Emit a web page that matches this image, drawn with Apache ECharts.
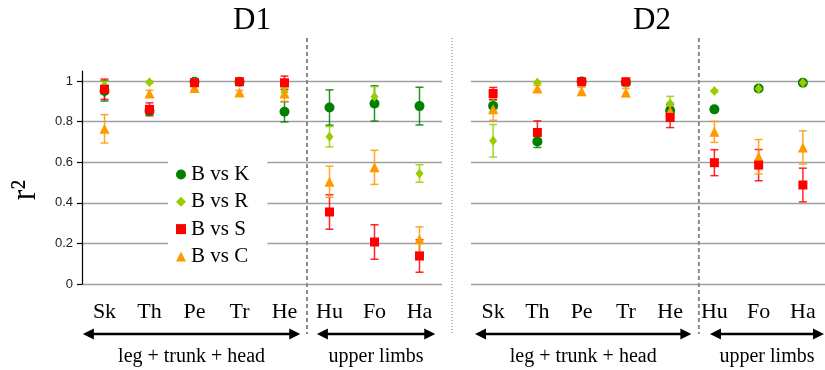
<!DOCTYPE html>
<html><head><meta charset="utf-8">
<script src="https://cdn.jsdelivr.net/npm/echarts@6/dist/echarts.min.js"></script>
<style>html,body{margin:0;padding:0;background:#fff}#c{width:825px;height:370px}</style>
</head><body><div id="c"></div>
<script>
// ---------- data ----------
const categories = ['Sk', 'Th', 'Pe', 'Tr', 'He', 'Hu', 'Fo', 'Ha'];
const panelTitles = ['D1', 'D2'];
const seriesNames = ['B vs K', 'B vs R', 'B vs S', 'B vs C'];
const yTicks = [0, 0.2, 0.4, 0.6, 0.8, 1];
const groupLabels = ['leg + trunk + head', 'upper limbs'];

// D1
const d1K    = [0.952, 0.854, 0.997, 0.997, 0.849, 0.870, 0.890, 0.877];
const d1KErr = [0.050, 0.020, 0.005, 0.005, 0.050, 0.087, 0.087, 0.093];
const d1R    = [0.980, 0.995, 0.995, 0.995, 0.947, 0.726, 0.923, 0.545];
const d1RErr = [0.020, 0.005, 0.005, 0.005, 0.020, 0.050, 0.050, 0.043];
const d1S    = [0.960, 0.861, 0.992, 0.997, 0.992, 0.355, 0.207, 0.138];
const d1SErr = [0.050, 0.032, 0.010, 0.005, 0.033, 0.085, 0.085, 0.080];
const d1C    = [0.765, 0.939, 0.966, 0.944, 0.939, 0.504, 0.575, 0.220];
const d1CErr = [0.070, 0.016, 0.010, 0.010, 0.040, 0.077, 0.084, 0.062];
// D2
const d2K    = [0.878, 0.703, 0.998, 0.993, 0.854, 0.861, 0.964, 0.992];
const d2KErr = [0.030, 0.030, 0.005, 0.005, 0.030, 0.010, 0.010, 0.005];
const d2R    = [0.706, 0.993, 0.990, 0.990, 0.890, 0.951, 0.963, 0.992];
const d2RErr = [0.080, 0.005, 0.005, 0.005, 0.035, 0.005, 0.005, 0.005];
const d2S    = [0.939, 0.747, 0.997, 0.997, 0.821, 0.598, 0.586, 0.488];
const d2SErr = [0.030, 0.057, 0.005, 0.005, 0.050, 0.064, 0.077, 0.083];
const d2C    = [0.862, 0.964, 0.950, 0.944, 0.852, 0.750, 0.627, 0.673];
const d2CErr = [0.055, 0.015, 0.020, 0.020, 0.040, 0.052, 0.085, 0.082];

// ---------- styles ----------
const SERIF = "'Times New Roman', 'Liberation Serif', serif";
const SANS = "Arial, 'Liberation Sans', sans-serif";
const colors = ['#008000', '#99cc00', '#ff0000', '#ff9900'];
const symbols = ['circle', 'diamond', 'rect', 'triangle'];
const symbolSizes = [10, [8, 10], 9, 10];
const drawOrder = [0, 1, 3, 2]; // K, R, C, S (S on top)

const panelData = [
  [[d1K, d1KErr], [d1R, d1RErr], [d1S, d1SErr], [d1C, d1CErr]],
  [[d2K, d2KErr], [d2R, d2RErr], [d2S, d2SErr], [d2C, d2CErr]]
];

const grids = [
  { left: 82, top: 71, width: 360, height: 213 },
  { left: 471, top: 71, width: 354, height: 213 }
];

function errRender(color) {
  return function (params, api) {
    const x = api.value(0);
    const hi = api.coord([x, api.value(2)]);
    const lo = api.coord([x, api.value(1)]);
    const w = 4;
    const st = { stroke: color, lineWidth: 1.5, opacity: 0.85 };
    return {
      type: 'group',
      children: [
        { type: 'line', shape: { x1: hi[0], y1: hi[1], x2: lo[0], y2: lo[1] }, style: st },
        { type: 'line', shape: { x1: hi[0] - w, y1: hi[1], x2: hi[0] + w, y2: hi[1] }, style: st },
        { type: 'line', shape: { x1: lo[0] - w, y1: lo[1], x2: lo[0] + w, y2: lo[1] }, style: st }
      ]
    };
  };
}

const xAxes = [], yAxes = [], seriesList = [];
for (let p = 0; p < 2; p++) {
  xAxes.push({
    type: 'category', gridIndex: p, data: categories, boundaryGap: true,
    axisLine: { show: false }, axisTick: { show: false },
    axisLabel: { fontFamily: SERIF, fontSize: 22, color: '#000', margin: 17, interval: 0 }
  });
  yAxes.push({
    type: 'value', gridIndex: p, min: 0, max: 1.05,
    axisLine: { show: p === 0, lineStyle: { color: '#000', width: 1.2 } },
    axisTick: { show: p === 0, length: 5, lineStyle: { color: '#000', width: 1.2 }, customValues: yTicks },
    axisLabel: { show: p === 0, customValues: yTicks, fontFamily: SANS, fontSize: 13, color: '#222', margin: 9 },
    splitLine: { show: true, lineStyle: { color: '#a0a0a0', width: 1.3 } }
  });
}
// hidden value axes for positioning separators / arrows
for (let p = 0; p < 2; p++) {
  xAxes.push({ type: 'value', gridIndex: p, min: 0, max: categories.length, show: false });
}

for (let p = 0; p < 2; p++) {
  for (let s = 0; s < 4; s++) {
    const [vals, errs] = panelData[p][s];
    seriesList.push({
      type: 'custom', name: seriesNames[s] + ' err', xAxisIndex: p, yAxisIndex: p,
      renderItem: errRender(colors[s]), z: 2, silent: true,
      data: vals.map((v, i) => [i, v - errs[i], v + errs[i]])
    });
  }
  drawOrder.forEach((s, k) => {
    const [vals] = panelData[p][s];
    seriesList.push({
      type: 'scatter', name: seriesNames[s], xAxisIndex: p, yAxisIndex: p,
      symbol: symbols[s], symbolSize: symbolSizes[s], z: 3 + k,
      itemStyle: { color: colors[s], opacity: 1 },
      data: vals.map((v, i) => [i, v])
    });
  });
}

const option = {
  animation: false,
  backgroundColor: '#fff',
  grid: grids,
  xAxis: xAxes,
  yAxis: yAxes,
  legend: {
    data: seriesNames, orient: 'vertical', left: 168, top: 160,
    padding: [4, 18, 4, 8], backgroundColor: '#fff',
    itemWidth: 10, itemHeight: 10, itemGap: 6.3, itemTextGap: 8,
    textStyle: { fontFamily: SERIF, fontSize: 21, color: '#000', lineHeight: 20 },
    selectedMode: false
  },
  series: seriesList
};

const chart = echarts.init(document.getElementById('c'));
chart.setOption(option);

// ---------- annotations, positioned through the axes ----------
const px = (p, v) => chart.convertToPixel({ xAxisIndex: 2 + p }, v);
const sepPos = [5, 5.15];                     // separator between groups (axis units)
const arrowRanges = [
  [[0.02, 4.85], [5.22, 7.85]],
  [[0.09, 4.98], [5.4, 8.0]]
];
const graphics = [];
const gridTop = grids[0].top;
for (let p = 0; p < 2; p++) {
  const xs = px(p, sepPos[p]);
  graphics.push({
    type: 'line', shape: { x1: xs, y1: gridTop - 33, x2: xs, y2: 334 },
    style: { stroke: '#8a8a8a', lineWidth: 2, lineDash: [4, 3] }, z: 1
  });
  graphics.push({
    type: 'text', x: p === 0 ? 252 : 652, y: 20.5,
    style: { text: panelTitles[p], font: '31px ' + SERIF, fill: '#000', align: 'center', verticalAlign: 'middle' }
  });
  arrowRanges[p].forEach((r, g) => {
    const x1 = px(p, r[0]), x2 = Math.min(px(p, r[1]), 824);
    const y = 334, hl = 11, hw = 5.5;
    graphics.push({
      type: 'group', children: [
        { type: 'line', shape: { x1: x1 + hl - 2, y1: y, x2: x2 - hl + 2, y2: y }, style: { stroke: '#000', lineWidth: 2.5 } },
        { type: 'polygon', shape: { points: [[x1, y], [x1 + hl, y - hw], [x1 + hl, y + hw]] }, style: { fill: '#000' } },
        { type: 'polygon', shape: { points: [[x2, y], [x2 - hl, y - hw], [x2 - hl, y + hw]] }, style: { fill: '#000' } }
      ]
    });
    graphics.push({
      type: 'text', x: (x1 + x2) / 2, y: 357,
      style: { text: groupLabels[g], font: '20px ' + SERIF, fill: '#000', align: 'center', verticalAlign: 'middle' }
    });
  });
}
const xd = (grids[0].left + grids[0].width + grids[1].left) / 2 - 4.5;
graphics.push({
  type: 'line', shape: { x1: xd, y1: gridTop - 33, x2: xd, y2: 333 },
  style: { stroke: '#777', lineWidth: 1, lineDash: [1, 2] }
});
graphics.push({
  type: 'text', x: 26, y: 190, rotation: Math.PI / 2, scaleY: 1.1,
  style: { text: 'r²', font: '32px ' + SERIF, fill: '#000', align: 'center', verticalAlign: 'middle' }
});
chart.setOption({ graphic: graphics });
</script>
</body></html>
